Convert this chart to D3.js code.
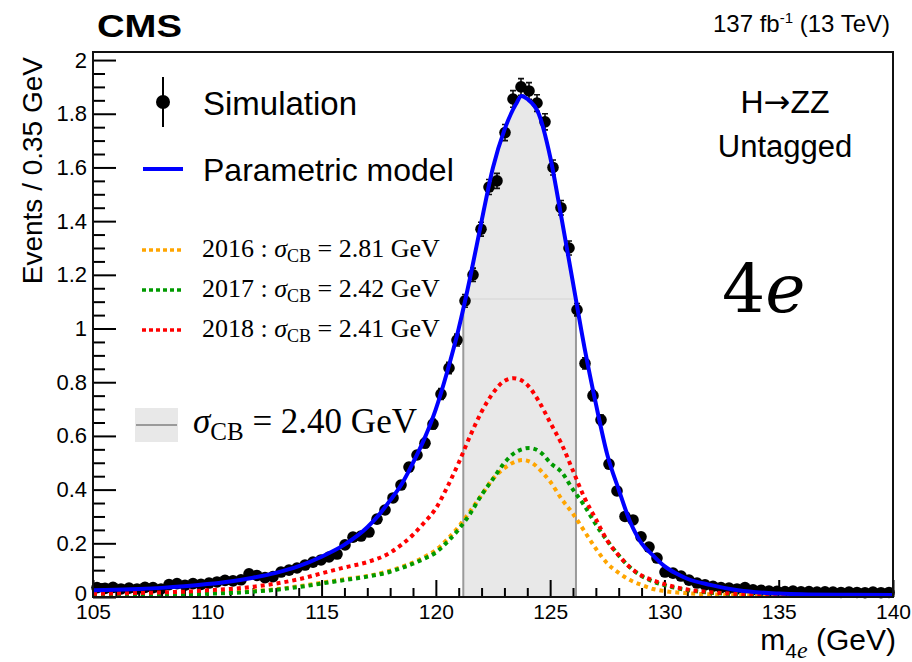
<!DOCTYPE html>
<html>
<head>
<meta charset="utf-8">
<script src="https://cdn.jsdelivr.net/npm/d3@7"></script>
<style>
  body { margin: 0; background: #fff; }
  svg text { font-family: "Liberation Sans", Arial, Helvetica, sans-serif; fill: #000; }
  .serif { font-family: "Liberation Serif", "Times New Roman", serif; }
</style>
</head>
<body>
<script>

// histogram: 100 bins of 0.35 GeV between 105 and 140 GeV
const massLo = 105
const massHi = 140
const binWidth = 0.35

const simValues = [
  0.035, 0.032, 0.036, 0.030, 0.033, 0.030, 0.036, 0.035, 0.030, 0.046,
  0.050, 0.044, 0.050, 0.047, 0.052, 0.056, 0.062, 0.060, 0.064, 0.086,
  0.080, 0.072, 0.076, 0.093, 0.100, 0.108, 0.119, 0.130, 0.138, 0.149,
  0.160, 0.194, 0.223, 0.227, 0.242, 0.290, 0.324, 0.369, 0.417, 0.484,
  0.529, 0.573, 0.644, 0.756, 0.853, 0.957, 1.103, 1.200, 1.370, 1.527,
  1.550, 1.730, 1.855, 1.900, 1.885, 1.840, 1.770, 1.600, 1.450, 1.300,
  1.070, 0.870, 0.750, 0.660, 0.495, 0.395, 0.300, 0.287, 0.224, 0.186,
  0.145, 0.093, 0.089, 0.078, 0.063, 0.052, 0.045, 0.040, 0.035, 0.033,
  0.030, 0.035, 0.027, 0.025, 0.022, 0.021, 0.020, 0.022, 0.019, 0.020,
  0.018, 0.019, 0.018, 0.017, 0.018, 0.017, 0.016, 0.018, 0.016, 0.017
]

const simErrors = [
  0.004, 0.004, 0.004, 0.004, 0.004, 0.004, 0.004, 0.004, 0.004, 0.005,
  0.005, 0.005, 0.005, 0.005, 0.005, 0.005, 0.006, 0.006, 0.006, 0.007,
  0.006, 0.006, 0.006, 0.007, 0.007, 0.007, 0.008, 0.008, 0.008, 0.009,
  0.009, 0.010, 0.011, 0.011, 0.011, 0.012, 0.013, 0.014, 0.015, 0.016,
  0.016, 0.017, 0.018, 0.020, 0.021, 0.022, 0.024, 0.025, 0.026, 0.028,
  0.028, 0.030, 0.031, 0.031, 0.031, 0.031, 0.030, 0.028, 0.027, 0.026,
  0.023, 0.021, 0.019, 0.018, 0.016, 0.014, 0.012, 0.012, 0.011, 0.010,
  0.009, 0.007, 0.007, 0.006, 0.006, 0.005, 0.005, 0.005, 0.004, 0.004,
  0.004, 0.004, 0.004, 0.004, 0.003, 0.003, 0.003, 0.003, 0.003, 0.003,
  0.003, 0.003, 0.003, 0.003, 0.003, 0.003, 0.003, 0.003, 0.003, 0.003
]

// parametric model (sum)
const modelMass = [105, 106, 107, 108, 109, 110, 111, 112, 113, 114, 115, 116, 117, 117.5, 118, 118.5,
  119, 119.5, 120, 120.5, 121, 121.5, 122, 122.5, 123, 123.5, 123.75, 124, 124.5, 125, 125.5,
  126, 126.5, 127, 127.5, 128, 128.5, 129, 129.5, 130, 130.5, 131, 132, 133, 134, 135, 136, 138, 140]
const modelValues = [0.025, 0.027, 0.030, 0.034, 0.040, 0.048, 0.058, 0.072, 0.090, 0.115, 0.150, 0.195, 0.26, 0.305, 0.36, 0.42,
  0.50, 0.59, 0.70, 0.84, 1.00, 1.19, 1.40, 1.60, 1.74, 1.835, 1.866, 1.855, 1.80, 1.64, 1.41,
  1.17, 0.93, 0.72, 0.53, 0.40, 0.28, 0.20, 0.155, 0.115, 0.088, 0.068, 0.045, 0.028, 0.018, 0.013, 0.010, 0.008, 0.007]

// per-year components
const mass2016 = [105, 107, 109, 110, 111, 112, 113, 114, 115, 116, 117, 118, 118.5, 119, 119.5, 120, 120.5, 121, 121.5,
  122, 122.5, 123, 123.5, 123.8, 124.2, 124.7, 125, 125.5, 126, 126.5, 127, 127.5, 128, 128.5, 129, 129.5, 130, 131, 132, 134, 140]
const values2016 = [0.006, 0.008, 0.011, 0.014, 0.017, 0.022, 0.029, 0.040, 0.053, 0.066, 0.078, 0.098, 0.112, 0.128, 0.150, 0.175, 0.215, 0.262, 0.32,
  0.38, 0.44, 0.48, 0.505, 0.51, 0.50, 0.46, 0.43, 0.365, 0.31, 0.245, 0.18, 0.125, 0.09, 0.063, 0.045, 0.03, 0.022, 0.014, 0.010, 0.007, 0.004]

const mass2017 = [105, 107, 109, 110, 111, 112, 113, 114, 115, 116, 117, 118, 118.5, 119, 119.5, 120, 120.5, 121, 121.5,
  122, 122.5, 123, 123.5, 124.1, 124.7, 125, 125.5, 126, 126.5, 127, 127.5, 128, 128.5, 129, 129.5, 130, 131, 132, 133, 135, 140]
const values2017 = [0.005, 0.007, 0.010, 0.012, 0.015, 0.020, 0.027, 0.037, 0.050, 0.063, 0.076, 0.094, 0.108, 0.124, 0.143, 0.166, 0.205, 0.252, 0.31,
  0.38, 0.44, 0.50, 0.54, 0.555, 0.53, 0.50, 0.465, 0.40, 0.34, 0.27, 0.21, 0.155, 0.11, 0.078, 0.058, 0.044, 0.026, 0.016, 0.011, 0.007, 0.004]

const mass2018 = [105, 107, 109, 110, 111, 112, 113, 114, 115, 116, 117, 118, 118.5, 119, 119.5, 120, 120.5, 121, 121.5,
  122, 122.5, 123, 123.4, 124, 124.5, 125, 125.5, 126, 126.5, 127, 127.5, 128, 128.5, 129, 129.5, 130, 131, 132, 133, 135, 140]
const values2018 = [0.012, 0.015, 0.020, 0.025, 0.030, 0.038, 0.050, 0.066, 0.088, 0.110, 0.130, 0.165, 0.195, 0.232, 0.278, 0.33, 0.41, 0.50, 0.60,
  0.69, 0.76, 0.805, 0.815, 0.79, 0.73, 0.65, 0.57, 0.47, 0.37, 0.29, 0.21, 0.155, 0.11, 0.08, 0.062, 0.048, 0.028, 0.018, 0.012, 0.008, 0.005]

// sigma band
const bandLo = 121.2
const bandHi = 126.13
const bandTop = 1.11

const legendYears = ["2016", "2017", "2018"]
const legendSigmas = ["2.81", "2.42", "2.41"]
const yearColors = ["#ffa500", "#009a00", "#ff0000"]

const xMajorTicks = [105, 110, 115, 120, 125, 130, 135, 140]
const yMajorTicks = [0, 0.2, 0.4, 0.6, 0.8, 1, 1.2, 1.4, 1.6, 1.8, 2]


function drawChart() {
    const width = 912, height = 662
    const left = 93, right = 893, top = 52, bottom = 597

    const svg = d3.select("body").append("svg")
        .attr("width", width)
        .attr("height", height)

    const x = d3.scaleLinear().domain([massLo, massHi]).range([left, right])
    const y = d3.scaleLinear().domain([0, 2.03]).range([bottom, top])

    const modelPts = modelMass.map((m, i) => [m, modelValues[i]])

    // gray band under the model between +-sigma
    svg.append("clipPath").attr("id", "bandclip")
        .append("rect")
        .attr("x", x(bandLo)).attr("y", top)
        .attr("width", x(bandHi) - x(bandLo)).attr("height", bottom - top)

    const area = d3.area()
        .x(d => x(d[0])).y0(y(0)).y1(d => y(d[1]))
        .curve(d3.curveMonotoneX)

    svg.append("path")
        .datum(modelPts)
        .attr("d", area)
        .attr("fill", "#e8e8e8")
        .attr("clip-path", "url(#bandclip)")

    svg.append("line")
        .attr("x1", x(bandLo)).attr("x2", x(bandHi))
        .attr("y1", y(bandTop)).attr("y2", y(bandTop))
        .attr("stroke", "#d4d4d4").attr("stroke-width", 1)

    svg.selectAll(".bandedge")
        .data([bandLo, bandHi])
        .enter().append("line")
        .attr("x1", d => x(d)).attr("x2", d => x(d))
        .attr("y1", y(0)).attr("y2", y(bandTop))
        .attr("stroke", "#9a9a9a").attr("stroke-width", 2)

    // axes (ticks pointing inward)
    const xMinor = d3.range(106, 140, 1).filter(v => v % 5 !== 0)
    svg.append("g")
        .attr("transform", `translate(0,${bottom})`)
        .call(d3.axisBottom(x).tickValues(xMinor).tickSize(-9).tickFormat(""))
        .call(g => g.select(".domain").remove())
        .call(g => g.selectAll("line").attr("stroke-width", 2))

    svg.append("g")
        .attr("transform", `translate(0,${bottom})`)
        .call(d3.axisBottom(x).tickValues(xMajorTicks).tickSize(-17).tickPadding(7).tickFormat(d3.format("d")))
        .call(g => g.select(".domain").remove())
        .call(g => g.selectAll("line").attr("stroke-width", 2))
        .call(g => g.selectAll("text").style("font-size", "21px").style("font-family", "Liberation Sans, Arial, sans-serif"))

    const yMinor = d3.range(0, 41).map(i => i * 0.05).filter((v, i) => i % 4 !== 0)
    svg.append("g")
        .attr("transform", `translate(${left},0)`)
        .call(d3.axisLeft(y).tickValues(yMinor).tickSize(-12).tickFormat(""))
        .call(g => g.select(".domain").remove())
        .call(g => g.selectAll("line").attr("stroke-width", 2))

    svg.append("g")
        .attr("transform", `translate(${left},0)`)
        .call(d3.axisLeft(y).tickValues(yMajorTicks).tickSize(-23).tickPadding(6).tickFormat(d => +d.toFixed(1)))
        .call(g => g.select(".domain").remove())
        .call(g => g.selectAll("line").attr("stroke-width", 2))
        .call(g => g.selectAll("text").style("font-size", "22px").style("font-family", "Liberation Sans, Arial, sans-serif"))
        .call(g => g.selectAll("text").filter(d => d === 0).attr("dy", "0.18em"))

    // simulated points with error bars
    const bins = simValues.map((v, i) => ({m: massLo + binWidth * (i + 0.5), v: v, e: simErrors[i]}))
    const pts = svg.append("g")
    pts.selectAll(".err")
        .data(bins)
        .enter().append("path")
        .attr("d", d => {
            const cx = x(d.m), y1 = y(d.v + d.e), y2 = y(d.v - d.e)
            return `M${cx},${y1}V${y2}M${cx - 3},${y1}H${cx + 3}M${cx - 3},${y2}H${cx + 3}`
        })
        .attr("stroke", "#111").attr("stroke-width", 1.6).attr("fill", "none")
    pts.selectAll("circle")
        .data(bins)
        .enter().append("circle")
        .attr("cx", d => x(d.m))
        .attr("cy", d => y(d.v))
        .attr("r", 5.8)
        .attr("fill", "#000")

    // dotted per-year curves
    const line = d3.line().x(d => x(d[0])).y(d => y(d[1])).curve(d3.curveMonotoneX)
    const yearData = [
        mass2016.map((m, i) => [m, values2016[i]]),
        mass2017.map((m, i) => [m, values2017[i]]),
        mass2018.map((m, i) => [m, values2018[i]])
    ]
    svg.selectAll(".year")
        .data(yearData)
        .enter().append("path")
        .attr("d", line)
        .attr("fill", "none")
        .attr("stroke", (d, i) => yearColors[i])
        .attr("stroke-width", 4)
        .attr("stroke-dasharray", "4,4")

    // parametric model
    svg.append("path")
        .datum(modelPts)
        .attr("d", line)
        .attr("fill", "none")
        .attr("stroke", "#0000ff")
        .attr("stroke-width", 4)

    // frame
    svg.append("rect")
        .attr("x", left).attr("y", top)
        .attr("width", right - left).attr("height", bottom - top)
        .attr("fill", "none").attr("stroke", "#111").attr("stroke-width", 2)

    // titles
    svg.append("text")
        .attr("x", 97).attr("y", 37)
        .attr("textLength", 85).attr("lengthAdjust", "spacingAndGlyphs")
        .style("font-size", "32px").style("font-weight", "bold")
        .text("CMS")

    const lumi = svg.append("text")
        .attr("x", 890).attr("y", 32)
        .attr("text-anchor", "end")
        .style("font-size", "24px")
    lumi.append("tspan").text("137 fb")
    lumi.append("tspan").attr("dy", -9).style("font-size", "15px").text("-1")
    lumi.append("tspan").attr("dy", 9).text(" (13 TeV)")

    svg.append("text")
        .attr("transform", "translate(42,57) rotate(-90)")
        .attr("text-anchor", "end")
        .style("font-size", "28px")
        .text("Events / 0.35 GeV")

    const xt = svg.append("text")
        .attr("x", 896).attr("y", 650)
        .attr("text-anchor", "end")
        .style("font-size", "30px")
    xt.append("tspan").text("m")
    xt.append("tspan").attr("dy", 8).style("font-size", "21px").text("4")
    xt.append("tspan").attr("class", "serif").style("font-size", "24px").style("font-style", "italic").text("e")
    xt.append("tspan").attr("dy", -8).text(" (GeV)")

    // legend
    const leg = svg.append("g")
    leg.append("line")
        .attr("x1", 163).attr("x2", 163).attr("y1", 77).attr("y2", 127)
        .attr("stroke", "#000").attr("stroke-width", 2)
    leg.append("circle").attr("cx", 163).attr("cy", 102).attr("r", 7).attr("fill", "#000")
    leg.append("text").attr("x", 203).attr("y", 115).style("font-size", "33px").text("Simulation")

    leg.append("line")
        .attr("x1", 143).attr("x2", 183).attr("y1", 169).attr("y2", 169)
        .attr("stroke", "#0000ff").attr("stroke-width", 4)
    leg.append("text").attr("x", 203).attr("y", 181).style("font-size", "32px").text("Parametric model")

    legendYears.forEach((yr, i) => {
        const ly = 250 + i * 40
        leg.append("line")
            .attr("x1", 142).attr("x2", 184).attr("y1", ly).attr("y2", ly)
            .attr("stroke", yearColors[i]).attr("stroke-width", 3.5)
            .attr("stroke-dasharray", "4,3")
        const t = leg.append("text").attr("class", "serif")
            .attr("x", 202).attr("y", ly + 7)
            .style("font-size", "26px")
        t.append("tspan").text(yr + " : ")
        t.append("tspan").style("font-style", "italic").text("σ")
        t.append("tspan").attr("dy", 5).style("font-size", "18px").text("CB")
        t.append("tspan").attr("dy", -5).text(" = " + legendSigmas[i] + " GeV")
    })

    leg.append("rect")
        .attr("x", 135).attr("y", 408).attr("width", 43).attr("height", 34)
        .attr("fill", "#e8e8e8")
    leg.append("line")
        .attr("x1", 136).attr("x2", 177).attr("y1", 425).attr("y2", 425)
        .attr("stroke", "#9a9a9a").attr("stroke-width", 2)
    const big = leg.append("text").attr("class", "serif")
        .attr("x", 193).attr("y", 433)
        .style("font-size", "35px")
    big.append("tspan").style("font-style", "italic").text("σ")
    big.append("tspan").attr("dy", 7).style("font-size", "25px").text("CB")
    big.append("tspan").attr("dy", -7).text(" = 2.40 GeV")

    // category labels
    const hzz = svg.append("text")
        .attr("x", 785).attr("y", 113).attr("text-anchor", "middle")
        .style("font-size", "32px")
    hzz.append("tspan").text("H")
    hzz.append("tspan").style("font-family", "DejaVu Sans, sans-serif").text("→")
    hzz.append("tspan").text("ZZ")
    svg.append("text")
        .attr("x", 785).attr("y", 157).attr("text-anchor", "middle")
        .style("font-size", "31px").text("Untagged")

    const fe = svg.append("text")
        .attr("x", 722).attr("y", 312)
        .style("font-family", "DejaVu Serif, serif")
        .style("font-size", "68px")
    fe.append("tspan").text("4")
    fe.append("tspan").style("font-style", "italic").text("e")
}

createChart = drawChart
createChart()

</script>
</body>
</html>
